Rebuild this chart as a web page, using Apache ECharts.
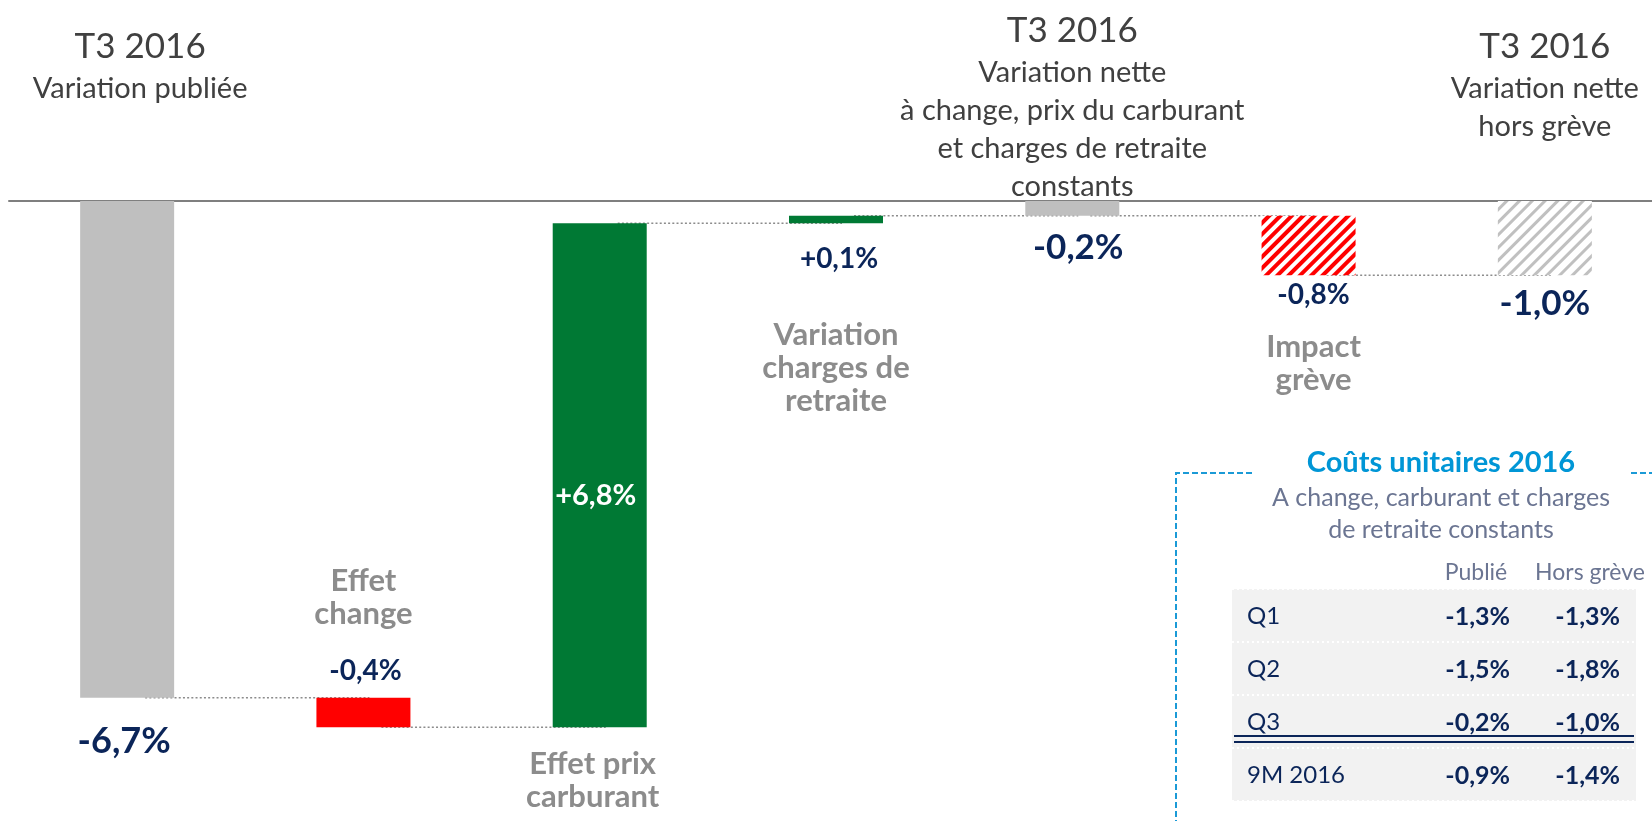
<!DOCTYPE html>
<html>
<head>
<meta charset="utf-8">
<title>Coûts unitaires T3 2016</title>
<script src="https://cdn.jsdelivr.net/npm/echarts@6/dist/echarts.min.js"></script>
<style>
  html, body { margin: 0; padding: 0; background: #fff; }
  #main { width: 1652px; height: 821px; }
</style>
</head>
<body>
<div id="main"></div>
<script>
// waterfall data
var categories = ['T3 2016 publiée', 'Effet change', 'Effet prix carburant', 'Variation charges de retraite', 'T3 2016 nette', 'Impact grève', 'T3 2016 hors grève'];
var values = [-6.7, -0.4, 6.8, 0.1, -0.2, -0.8, -1.0];
var isTotal = [true, false, false, false, true, false, true];
var barNames = ['', 'Effet\nchange', 'Effet prix\ncarburant', 'Variation\ncharges de\nretraite', '', 'Impact\ngrève', ''];
var headTitles = ['T3 2016', '', '', '', 'T3 2016', '', 'T3 2016'];
var headLines = [['Variation publiée'], [], [], [], ['Variation nette', 'à change, prix du carburant', 'et charges de retraite', 'constants'], [], ['Variation nette', 'hors grève']];

// inset table
var tableRows = ['Q1', 'Q2', 'Q3', '9M 2016'];
var tablePublie = [-1.3, -1.5, -0.2, -0.9];
var tableHorsGreve = [-1.3, -1.8, -1.0, -1.4];
var tableHeads = ['Publié', 'Hors grève'];
var tableTitle = 'Coûts unitaires 2016';
var tableSub = ['A change, carburant et charges', 'de retraite constants'];

var NAVY = '#0b2559';
var FONT = 'Lato';

function pct(v, sign) {
    return (sign && v > 0 ? '+' : '') + v.toFixed(1).replace('.', ',') + '%';
}

// start / end of each floating bar
var lo = [], hi = [], ends = [];
var run = 0;
values.forEach(function (v, i) {
    var s = isTotal[i] ? 0 : run;
    var e = isTotal[i] ? v : run + v;
    run = e;
    ends.push(e);
    lo.push(Math.min(s, e));
    hi.push(Math.max(s, e));
});

var barStyles = [
    {color: '#bfbfbf'},
    {color: '#ff0000'},
    {color: '#007934'},
    {color: '#007934'},
    {color: '#bfbfbf'},
    {color: '#ffffff', decal: {symbol: 'rect', symbolSize: 1, dashArrayX: [1, 0], dashArrayY: [3.6, 3.9], rotation: -Math.PI / 4, color: '#ff0000'}},
    {color: '#ffffff', decal: {symbol: 'rect', symbolSize: 1, dashArrayX: [1, 0], dashArrayY: [2.3, 5.2], rotation: -Math.PI / 4, color: '#c0c0c0'}}
];

// label placement (pixels from the bar's lower edge)
var valueLab = [
    {dx: -3, dy: 44, size: 36, color: NAVY},
    {dx: 2, dy: -56, size: 28, color: NAVY},
    {dx: -4, dy: -232, size: 29, color: '#ffffff'},
    {dx: 3, dy: 36, size: 28, color: NAVY},
    {dx: 6, dy: 32, size: 35, color: NAVY},
    {dx: 5, dy: 20, size: 28, color: NAVY},
    {dx: 0, dy: 29, size: 35, color: NAVY}
];
var nameLab = [null, {dx: 0, dy: -130}, {dx: -7, dy: 53}, {dx: 0, dy: 145}, null, {dx: 5, dy: 88}, null];
var headLab = [{dx: 13, dy: -177}, null, null, null, {dx: 0, dy: -193}, null, {dx: 0, dy: -177}];

var myChart = echarts.init(document.getElementById('main'));

var graphics = [];
// dashed frame
graphics.push({type: 'polyline', shape: {points: [[1252, 473], [1176, 473], [1176, 830]]},
    style: {stroke: '#1b9ad6', lineWidth: 2, lineDash: [6, 3], fill: null}});
graphics.push({type: 'line', shape: {x1: 1631, y1: 473, x2: 1652, y2: 473},
    style: {stroke: '#1b9ad6', lineWidth: 2, lineDash: [6, 3]}});
graphics.push({type: 'text', x: 1441, y: 463, style: {text: tableTitle, fill: '#0096d6',
    font: 'bold 29px ' + FONT, textAlign: 'center', textVerticalAlign: 'middle'}});
tableSub.forEach(function (s, k) {
    graphics.push({type: 'text', x: 1441, y: 498 + k * 32, style: {text: s, fill: '#6b7592',
        font: '25px ' + FONT, textAlign: 'center', textVerticalAlign: 'middle'}});
});
graphics.push({type: 'text', x: 1476, y: 573, style: {text: tableHeads[0], fill: '#6b7592',
    font: '23px ' + FONT, textAlign: 'center', textVerticalAlign: 'middle'}});
graphics.push({type: 'text', x: 1590, y: 573, style: {text: tableHeads[1], fill: '#6b7592',
    font: '23px ' + FONT, textAlign: 'center', textVerticalAlign: 'middle'}});
var rowTop = 589, rowH = 53;
graphics.push({type: 'rect', shape: {x: 1232, y: rowTop, width: 404, height: rowH * tableRows.length},
    style: {fill: '#f2f2f2'}});
for (var r = 0; r <= tableRows.length; r++) {
    graphics.push({type: 'line', shape: {x1: 1232, y1: rowTop + r * rowH, x2: 1636, y2: rowTop + r * rowH},
        style: {stroke: '#ffffff', lineWidth: 2, lineDash: [2, 3]}});
}
tableRows.forEach(function (name, k) {
    var cy = rowTop + rowH * k + rowH / 2 + 1;
    graphics.push({type: 'text', x: 1247, y: cy, style: {text: name, fill: NAVY,
        font: '24px ' + FONT, textAlign: 'left', textVerticalAlign: 'middle'}});
    graphics.push({type: 'text', x: 1510, y: cy, style: {text: pct(tablePublie[k]), fill: NAVY,
        font: 'bold 25px ' + FONT, textAlign: 'right', textVerticalAlign: 'middle'}});
    graphics.push({type: 'text', x: 1620, y: cy, style: {text: pct(tableHorsGreve[k]), fill: NAVY,
        font: 'bold 25px ' + FONT, textAlign: 'right', textVerticalAlign: 'middle'}});
});
// double rule under Q3
graphics.push({type: 'line', shape: {x1: 1234, y1: 736, x2: 1634, y2: 736}, style: {stroke: NAVY, lineWidth: 2}});
graphics.push({type: 'line', shape: {x1: 1234, y1: 742, x2: 1634, y2: 742}, style: {stroke: NAVY, lineWidth: 2}});

myChart.setOption({
    animation: false,
    grid: {left: 9, top: 201, width: 1654, height: 593, outerBoundsMode: 'none'},
    xAxis: {
        type: 'category',
        data: categories,
        axisLine: {lineStyle: {color: '#7f7f7f', width: 2}},
        axisTick: {show: false},
        axisLabel: {show: false}
    },
    yAxis: {
        type: 'value',
        min: -8,
        max: 0,
        show: false,
        splitLine: {show: false}
    },
    graphic: graphics,
    series: [
        {
            // dotted connectors
            type: 'custom',
            z: 1,
            silent: true,
            data: ends.slice(0, ends.length - 1).map(function (e, i) { return [i, e]; }),
            renderItem: function (params, api) {
                var i = api.value(0), lv = api.value(1);
                var a = api.coord([i, lv]), b = api.coord([i + 1, lv]);
                return {type: 'line', shape: {x1: a[0] + 18, y1: a[1], x2: b[0] + 6, y2: b[1]},
                    style: {stroke: '#8c8c8c', lineWidth: 1.5, lineDash: [2, 2.2]}};
            }
        },
        {
            name: 'base',
            type: 'bar',
            stack: 'w',
            z: 2,
            barWidth: 94,
            silent: true,
            itemStyle: {color: 'transparent'},
            data: hi
        },
        {
            name: 'variation',
            type: 'bar',
            stack: 'w',
            z: 2,
            barWidth: 94,
            data: lo.map(function (l, i) {
                return {value: l - hi[i], itemStyle: barStyles[i]};
            })
        },
        {
            // value labels, bar names and headings
            type: 'custom',
            z: 5,
            silent: true,
            data: lo.map(function (l, i) { return [i, l]; }),
            renderItem: function (params, api) {
                var i = params.dataIndex;
                var bot = api.coord([i, api.value(1)]);
                var zero = api.coord([i, 0]);
                var kids = [];
                var vl = valueLab[i];
                kids.push({type: 'text', x: bot[0] + vl.dx, y: bot[1] + vl.dy, style: {
                    text: pct(values[i], true), fill: vl.color, font: 'bold ' + vl.size + 'px ' + FONT,
                    align: 'center', verticalAlign: 'middle'}});
                if (barNames[i]) {
                    var nl = nameLab[i];
                    kids.push({type: 'text', x: bot[0] + nl.dx, y: bot[1] + nl.dy, style: {
                        text: barNames[i], fill: '#8c8c8c', font: 'bold 31px ' + FONT, lineHeight: 33,
                        align: 'center', verticalAlign: 'middle'}});
                }
                if (headTitles[i]) {
                    var hl = headLab[i];
                    var txt = '{t|' + headTitles[i] + '}';
                    headLines[i].forEach(function (s) { txt += '\n{s|' + s + '}'; });
                    kids.push({type: 'text', x: zero[0] + hl.dx, y: zero[1] + hl.dy, style: {
                        text: txt, fill: '#404040', align: 'center', verticalAlign: 'top',
                        rich: {
                            t: {fontFamily: FONT, fontSize: 35, lineHeight: 46, fill: '#404040', align: 'center'},
                            s: {fontFamily: FONT, fontSize: 29, lineHeight: 38, fill: '#404040', align: 'center'}
                        }}});
                }
                return {type: 'group', children: kids};
            }
        }
    ]
});
</script>
</body>
</html>
